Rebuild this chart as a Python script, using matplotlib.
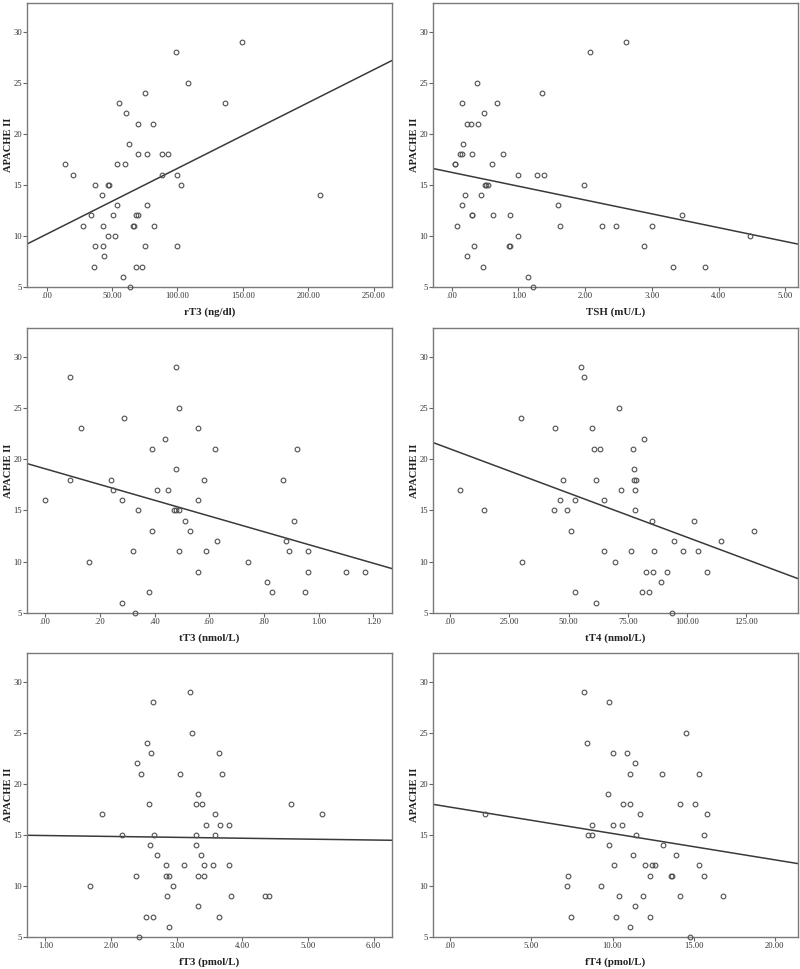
import numpy as np
import matplotlib.pyplot as plt

plt.rcParams['font.family'] = ['Liberation Serif', 'DejaVu Serif']

# APACHE II scores against each thyroid measure
rt3_x = [14, 20, 28, 34, 36, 37, 37, 42, 43, 43, 44, 47, 47.5, 47, 51, 52, 54, 54, 55, 58,
         60, 61, 63, 64, 66, 67, 68, 70, 68, 70, 70, 73, 75, 75, 77, 77, 81, 82, 88, 88,
         93, 99, 99.5, 99.5, 103, 108, 136, 149.5, 209]
rt3_y = [17, 16, 11, 12, 7, 15, 9, 14, 11, 9, 8, 15, 15, 10, 12, 10, 13, 17, 23, 6,
         17, 22, 19, 5, 11, 11, 12, 12, 7, 21, 18, 7, 24, 9, 18, 13, 21, 11, 18, 16,
         18, 28, 16, 9, 15, 25, 23, 29, 14]

tsh_x = [0.05, 0.055, 0.085, 0.125, 0.155, 0.155, 0.155, 0.175, 0.205, 0.23, 0.23, 0.295,
         0.3, 0.31, 0.31, 0.33, 0.38, 0.40, 0.44, 0.47, 0.48, 0.50, 0.52, 0.54, 0.60,
         0.625, 0.675, 0.775, 0.855, 0.875, 0.88, 1.0, 1.0, 1.145, 1.215, 1.285, 1.355,
         1.385, 1.59, 1.62, 1.98, 2.07, 2.26, 2.455, 2.605, 2.885, 3.005, 3.32, 3.455,
         3.79, 4.475]
tsh_y = [17, 17, 11, 18, 18, 23, 13, 19, 14, 21, 8, 21,
         12, 12, 18, 9, 25, 21, 14, 7, 22, 15, 15, 15, 17,
         12, 23, 18, 9, 9, 12, 16, 10, 6, 5, 16, 24,
         16, 13, 11, 15, 28, 11, 11, 29, 9, 11, 7, 12,
         7, 10]

tt3_x = [0.0, 0.09, 0.09, 0.13, 0.16, 0.24, 0.25, 0.28, 0.28, 0.29, 0.32, 0.33, 0.34, 0.38,
         0.39, 0.39, 0.41, 0.44, 0.45, 0.47, 0.48, 0.49, 0.48, 0.48, 0.49, 0.49, 0.51,
         0.53, 0.56, 0.56, 0.56, 0.58, 0.59, 0.62, 0.63, 0.74, 0.81, 0.83, 0.87, 0.88,
         0.89, 0.91, 0.92, 0.95, 0.96, 0.96, 1.10, 1.17]
tt3_y = [16, 28, 18, 23, 10, 18, 17, 16, 6, 24, 11, 5, 15, 7,
         21, 13, 17, 22, 17, 15, 15, 15, 29, 19, 25, 11, 14,
         13, 23, 16, 9, 18, 11, 21, 12, 10, 8, 7, 18, 12,
         11, 14, 21, 7, 11, 9, 9, 9]

tt4_x = [4.1, 14.4, 29.8, 30.2, 43.8, 44.2, 46.2, 47.5, 49.3, 51.2, 52.5, 52.5, 55.1, 56.6,
         60.0, 60.9, 61.4, 61.4, 63.3, 65.0, 65.0, 69.5, 71.2, 72.0, 76.3, 77.2, 77.8,
         77.8, 78.4, 78.1, 78.2, 80.8, 81.9, 82.5, 83.9, 85.2, 85.7, 86.2, 89.0, 91.7,
         93.8, 94.5, 98.3, 103.1, 104.5, 108.6, 114.3, 128.4]
tt4_y = [17, 15, 24, 10, 15, 23, 16, 18, 15, 13, 7, 16, 29, 28,
         23, 21, 18, 6, 21, 16, 11, 10, 25, 17, 11, 21, 19,
         18, 18, 17, 15, 7, 22, 9, 7, 14, 9, 11, 8, 9,
         5, 12, 11, 14, 11, 9, 12, 13]

ft3_x = [1.68, 1.87, 2.16, 2.38, 2.39, 2.43, 2.46, 2.53, 2.55, 2.58, 2.60, 2.61, 2.64, 2.64,
         2.65, 2.70, 2.83, 2.83, 2.85, 2.88, 2.88, 2.94, 3.05, 3.11, 3.21, 3.24, 3.29,
         3.30, 3.30, 3.32, 3.32, 3.32, 3.37, 3.38, 3.41, 3.42, 3.45, 3.55, 3.58, 3.59,
         3.64, 3.64, 3.66, 3.69, 3.79, 3.80, 3.82, 4.34, 4.40, 4.74, 5.21]
ft3_y = [10, 17, 15, 11, 22, 5, 21, 7, 24, 18, 14, 23, 7, 28,
         15, 13, 12, 11, 9, 11, 6, 10, 21, 12, 29, 25, 15,
         18, 14, 19, 8, 11, 13, 18, 12, 11, 16, 12, 17, 15,
         7, 23, 16, 21, 16, 12, 9, 9, 9, 18, 17]

ft4_x = [2.16, 7.28, 7.2, 7.46, 8.23, 8.41, 8.47, 8.72, 8.74, 9.32, 9.75, 9.77, 9.79, 10.04,
         10.06, 10.1, 10.19, 10.41, 10.6, 10.66, 10.89, 11.05, 11.09, 11.09, 11.26, 11.36,
         11.36, 11.44, 11.69, 11.86, 12.02, 12.29, 12.31, 12.41, 12.6, 13.05, 13.09, 13.6,
         13.7, 13.9, 14.16, 14.16, 14.56, 14.78, 15.07, 15.32, 15.34, 15.63, 15.63, 15.81,
         16.8]
ft4_y = [17, 11, 10, 7, 29, 24, 15, 16, 15, 10, 19, 14, 28, 23,
         16, 12, 7, 9, 16, 18, 23, 18, 21, 6, 13, 22,
         8, 15, 17, 9, 12, 11, 7, 12, 12, 21, 14, 11,
         11, 13, 18, 9, 25, 5, 18, 21, 12, 15, 11, 17,
         9]

# fitted lines (intercept, slope) as drawn
rt3_fit = (10.17, 0.0644)
tsh_fit = (16.22, -1.353)
tt3_fit = (19.07, -7.68)
tt4_fit = (21.0, -0.0861)
ft3_fit = (15.02, -0.088)
ft4_fit = (17.71, -0.2577)

panels = [
    (rt3_x, rt3_y, rt3_fit, 'rT3 (ng/dl)', (-15, 264), [0, 50, 100, 150, 200, 250],
     ['.00', '50.00', '100.00', '150.00', '200.00', '250.00']),
    (tsh_x, tsh_y, tsh_fit, 'TSH (mU/L)', (-0.28, 5.19), [0, 1, 2, 3, 4, 5],
     ['.00', '1.00', '2.00', '3.00', '4.00', '5.00']),
    (tt3_x, tt3_y, tt3_fit, 'tT3 (nmol/L)', (-0.066, 1.268), [0, 0.2, 0.4, 0.6, 0.8, 1.0, 1.2],
     ['.00', '.20', '.40', '.60', '.80', '1.00', '1.20']),
    (tt4_x, tt4_y, tt4_fit, 'tT4 (nmol/L)', (-7.3, 146.9), [0, 25, 50, 75, 100, 125],
     ['.00', '25.00', '50.00', '75.00', '100.00', '125.00']),
    (ft3_x, ft3_y, ft3_fit, 'fT3 (pmol/L)', (0.72, 6.28), [1, 2, 3, 4, 5, 6],
     ['1.00', '2.00', '3.00', '4.00', '5.00', '6.00']),
    (ft4_x, ft4_y, ft4_fit, 'fT4 (pmol/L)', (-1.07, 21.44), [0, 5, 10, 15, 20],
     ['.00', '5.00', '10.00', '15.00', '20.00']),
]

W, H = 800, 969
fig = plt.figure(figsize=(W / 100, H / 100), dpi=100)

lefts = [27, 433]
tops = [3, 328, 653]
bottoms = [287, 613, 937]
width = 365

for i, (x, y, fit, xlabel, xlim, ticks, ticklabels) in enumerate(panels):
    r, c = divmod(i, 2)
    h = bottoms[r] - tops[r]
    ax = fig.add_axes([lefts[c] / W, 1 - bottoms[r] / H, width / W, h / H])
    ax.plot(x, y, 'o', ms=3.4, mfc='none', mec='#4f4f4f', mew=0.8,
            clip_on=False, zorder=3)
    xs = np.array(xlim)
    ax.plot(xs, fit[0] + fit[1] * xs, color='#3a3a3a', lw=1.1)
    ax.set_xlim(xlim)
    ax.set_ylim(5, 32.8)
    ax.set_xticks(ticks)
    ax.set_xticklabels(ticklabels)
    ax.set_yticks([5, 10, 15, 20, 25, 30])
    ax.tick_params(axis='both', labelsize=6.2, length=3, width=0.8,
                   color='#666666', labelcolor='#333333', pad=0.5)
    for s in ax.spines.values():
        s.set_color('#7a7a7a')
        s.set_linewidth(1.0)
    ax.set_xlabel(xlabel, fontsize=7.8, fontweight='bold', color='#222222', va='center')
    ax.xaxis.set_label_coords(0.5, -25 / h)
    ax.set_ylabel('APACHE II', fontsize=7.6, fontweight='bold', color='#222222', va='center')
    ax.yaxis.set_label_coords(-0.052, 0.5)

fig.savefig('out.png', dpi=100)
